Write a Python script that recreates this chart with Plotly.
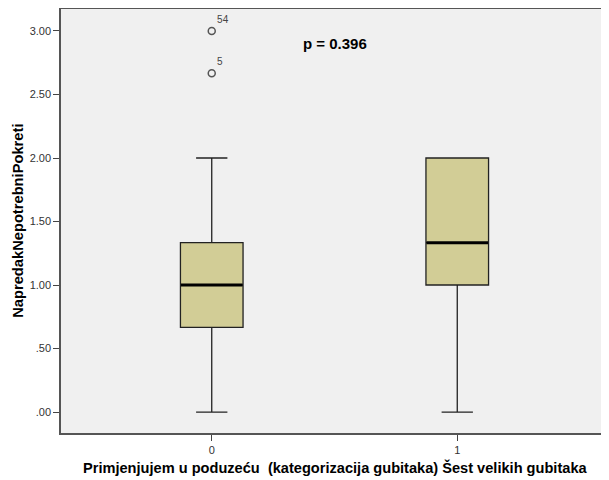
import plotly.graph_objects as go

"""DATA"""
groups = ["0", "1"]
q1 = [0.667, 1.0]
median = [1.0, 1.333]
q3 = [1.333, 2.0]
lower = [0.0, 0.0]
upper = [2.0, 2.0]

outlier_group = ["0", "0"]
outlier_value = [3.0, 2.667]
outlier_case = ["54", "5"]

y_ticks = [0, 0.5, 1.0, 1.5, 2.0, 2.5, 3.0]
y_tick_text = [".00", ".50", "1.00", "1.50", "2.00", "2.50", "3.00"]

"""PLOT"""
fig = go.Figure()

fig.add_trace(go.Box(
    x=groups, q1=q1, median=median, q3=q3,
    lowerfence=lower, upperfence=upper,
    fillcolor="rgb(210,205,150)",
    line=dict(color="#222222", width=1.3),
    width=0.255, whiskerwidth=0.5,
    boxpoints=False, showlegend=False, hoverinfo="skip",
))

# thick median line on top of the box
fig.add_trace(go.Scatter(
    x=groups, y=median, mode="markers",
    marker=dict(symbol="line-ew", size=44, line=dict(color="black", width=3)),
    showlegend=False, hoverinfo="skip",
))

fig.add_trace(go.Scatter(
    x=outlier_group, y=outlier_value, mode="markers+text",
    marker=dict(symbol="circle-open", size=7, color="#555555", line=dict(width=1.5)),
    text=outlier_case, textposition="top right",
    textfont=dict(family="Liberation Sans", size=10, color="#444444"),
    showlegend=False, hoverinfo="skip",
))

fig.add_annotation(
    x=0.5, y=2.9, xref="x", yref="y", text="<b>p = 0.396</b>",
    showarrow=False, font=dict(family="Liberation Sans", size=15, color="black"),
)

# axis titles
fig.add_annotation(
    x=0.5, y=-0.0825, xref="paper", yref="paper", yanchor="middle",
    text="<b>Primjenjujem u poduzeću  (kategorizacija gubitaka) Šest velikih gubitaka</b>",
    showarrow=False, font=dict(family="Liberation Sans", size=14.6, color="black"),
)
fig.add_annotation(
    x=-0.079, y=0.5, xref="paper", yref="paper", xanchor="center", textangle=-90,
    text="<b>NapredakNepotrebniPokreti</b>",
    showarrow=False, font=dict(family="Liberation Sans", size=14.7, color="black"),
)

fig.update_layout(
    width=601, height=472,
    margin=dict(l=53, r=1, t=1, b=47),
    paper_bgcolor="white", plot_bgcolor="#f0f0f0",
    font=dict(family="Liberation Sans", color="#333333"),
)
fig.update_xaxes(
    type="category", range=[-0.614, 1.614], automargin=False,
    showgrid=False, zeroline=False,
    showline=True, linecolor="#555555", linewidth=1.5, mirror=True,
    ticks="outside", ticklen=6, tickcolor="#444444",
    tickfont=dict(size=11, color="#333333"),
)
fig.update_yaxes(
    range=[-0.165, 3.173], automargin=False,
    tickvals=y_ticks, ticktext=y_tick_text,
    showgrid=False, zeroline=False,
    showline=True, linecolor="#555555", linewidth=1.5, mirror=True,
    ticks="outside", ticklen=6, tickcolor="#444444",
    tickfont=dict(size=11, color="#333333"),
)

fig.write_html("out.html")
